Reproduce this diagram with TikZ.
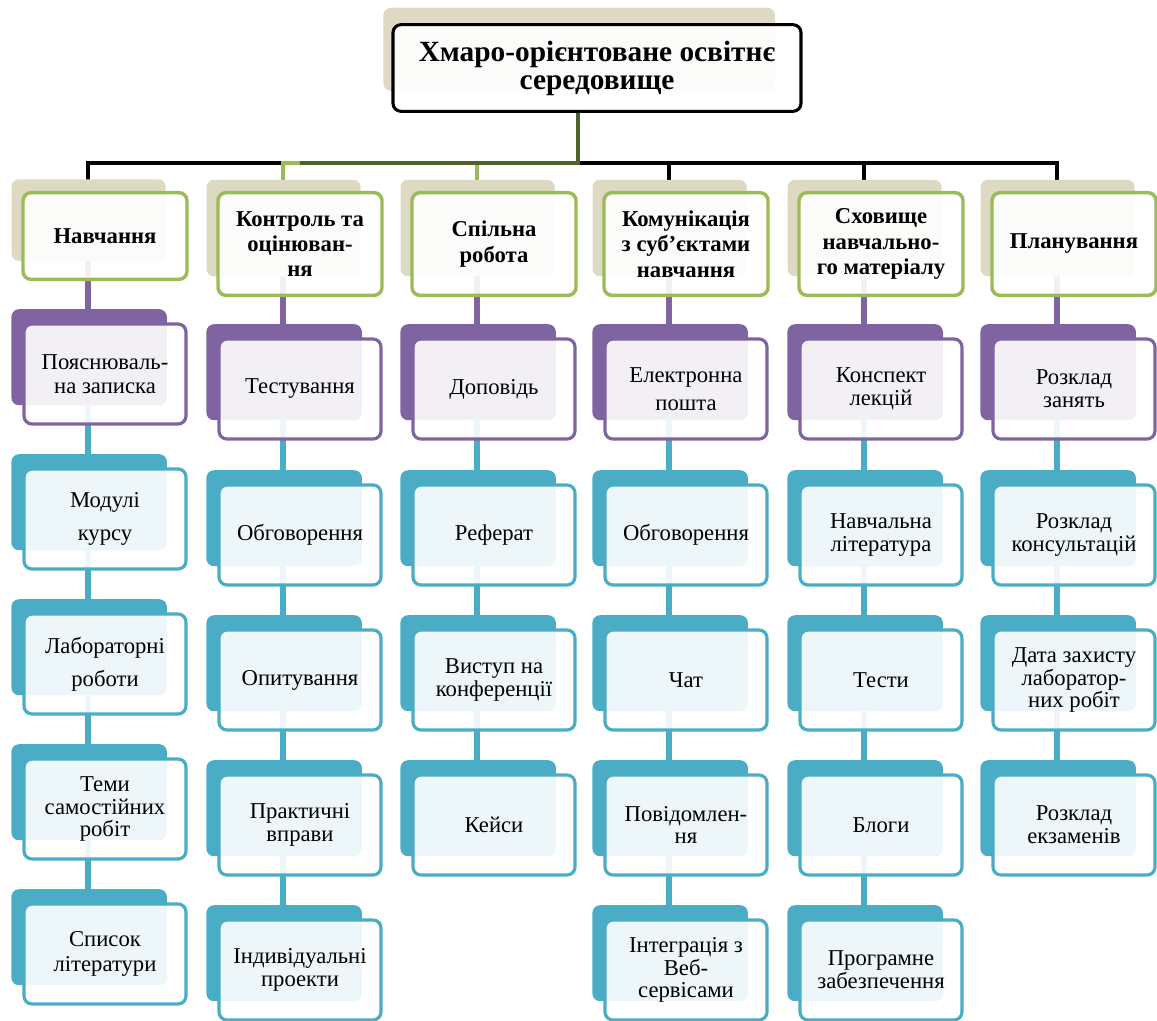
\documentclass[tikz,border=0pt]{standalone}
\usepackage{fontspec}
\setmainfont{Liberation Serif}
\usetikzlibrary{shadows,backgrounds}
\definecolor{tanc}{HTML}{DDD9C3}
\definecolor{greenc}{HTML}{9BBB59}
\definecolor{purplec}{HTML}{8064A2}
\definecolor{bluec}{HTML}{4BACC6}
\definecolor{olivec}{HTML}{4F6228}
\tikzset{
  headbox/.style={draw=black, line width=2.3pt, rounded corners=6pt,
    fill=white, fill opacity=0.9, text opacity=1, align=center,
    minimum width=306pt, minimum height=65pt,
    font=\fontsize{22}{21}\selectfont\bfseries,
    general shadow={fill=tanc, fill opacity=1, shadow scale=0.96,
      shadow xshift=-13.9pt, shadow yshift=14.6pt}},
  groupbox/.style={draw=greenc, line width=2.6pt, rounded corners=6pt,
    fill=white, fill opacity=0.9, text opacity=1, align=center,
    minimum width=123pt, minimum height=77pt,
    font=\fontsize{17}{19}\selectfont\bfseries,
    general shadow={fill=tanc, fill opacity=1, shadow scale=0.94,
      shadow xshift=-13.1pt, shadow yshift=12.75pt}},
  itembox/.style={draw=#1, line width=2.4pt, rounded corners=6pt,
    fill=white, fill opacity=0.9, text opacity=1, align=center,
    minimum width=121.5pt, minimum height=75pt,
    font=\fontsize{17}{17}\selectfont,
    general shadow={fill=#1, fill opacity=1, shadow scale=0.96,
      shadow xshift=-12.4pt, shadow yshift=13.1pt}},
  pitem/.style={itembox=purplec},
  bitem/.style={itembox=bluec},
  trunk/.style={line width=2.4pt},
  link/.style={line width=4pt}
}
\begin{document}
\begin{tikzpicture}[x=0.75pt,y=-0.75pt]
  \useasboundingbox (0,0) rectangle (1157,1021);
  \node[headbox] (cloud) at (597,68) {Хмаро-орієнтоване освітнє\\середовище};
  \coordinate (hub) at (578,163);

  % first level
  \node[groupbox, minimum height=65pt] (learn) at (105,236) {Навчання};
  \node[groupbox] (control) at (300,244) {Контроль та\\оцінюван-\\ня};
  \node[groupbox] (collab) at (494,244) {Спільна\\робота};
  \node[groupbox] (comm) at (686,244) {Комунікація\\з суб'єктами\\навчання};
  \node[groupbox] (store) at (881,244) {Сховище\\навчально-\\го матеріалу};
  \node[groupbox] (plan) at (1074,244) {Планування};

  % Навчання
  \node[pitem] (learn1) at (105,374) {Пояснюваль-\\[1pt]на записка};
  \node[bitem] (learn2) at (105,519) {Модулі\\[8pt]курсу};
  \node[bitem] (learn3) at (105,664) {Лабораторні\\[8pt]роботи};
  \node[bitem] (learn4) at (105,809) {Теми\\самостійних\\робіт};
  \node[bitem] (learn5) at (105,954) {Список\\[2pt]літератури};

  % Контроль
  \node[pitem] (control1) at (300,389) {Тестування};
  \node[bitem] (control2) at (300,535) {Обговорення};
  \node[bitem] (control3) at (300,680) {Опитування};
  \node[bitem] (control4) at (300,825) {Практичні\\вправи};
  \node[bitem] (control5) at (300,970) {Індивідуальні\\проекти};

  % Спільна робота
  \node[pitem] (collab1) at (494,389) {Доповідь};
  \node[bitem] (collab2) at (494,535) {Реферат};
  \node[bitem] (collab3) at (494,680) {Виступ на\\конференції};
  \node[bitem] (collab4) at (494,825) {Кейси};

  % Комунікація
  \node[pitem] (comm1) at (686,389) {Електронна\\[4pt]пошта};
  \node[bitem] (comm2) at (686,535) {Обговорення};
  \node[bitem] (comm3) at (686,680) {Чат};
  \node[bitem] (comm4) at (686,825) {Повідомлен-\\ня};
  \node[bitem] (comm5) at (686,970) {Інтеграція з\\Веб-\\сервісами};

  % Сховище
  \node[pitem] (store1) at (881,389) {Конспект\\лекцій};
  \node[bitem] (store2) at (881,535) {Навчальна\\література};
  \node[bitem] (store3) at (881,680) {Тести};
  \node[bitem] (store4) at (881,825) {Блоги};
  \node[bitem] (store5) at (881,970) {Програмне\\забезпечення};

  % Планування
  \node[pitem] (plan1) at (1074,389) {Розклад\\занять};
  \node[bitem] (plan2) at (1074,535) {Розклад\\консультацій};
  \node[bitem] (plan3) at (1074,680) {Дата захисту\\лаборатор-\\них робіт};
  \node[bitem] (plan4) at (1074,825) {Розклад\\екзаменів};

  \begin{scope}[on background layer]
  \begin{scope}[trunk]
    \draw (hub) -| ([xshift=-12.75pt]learn.north);
    \draw[greenc] (hub) -| ([xshift=-12.75pt]control.north);
    \draw[greenc] (hub) -| ([xshift=-12.75pt]collab.north);
    \draw (hub) -| ([xshift=-12.75pt]comm.north);
    \draw (hub) -| ([xshift=-12.75pt]store.north);
    \draw (hub) -| ([xshift=-12.75pt]plan.north);
    \draw[olivec] (cloud.south -| hub) -- (hub) -- (hub -| control.north);
  \end{scope}
  \begin{scope}[link]
    \draw[purplec] ([xshift=-12.75pt]learn.center) -- ([xshift=-12.75pt]learn1.center);
    \draw[bluec] ([xshift=-12.75pt]learn1.center) -- ([xshift=-12.75pt]learn2.center);
    \draw[bluec] ([xshift=-12.75pt]learn2.center) -- ([xshift=-12.75pt]learn3.center);
    \draw[bluec] ([xshift=-12.75pt]learn3.center) -- ([xshift=-12.75pt]learn4.center);
    \draw[bluec] ([xshift=-12.75pt]learn4.center) -- ([xshift=-12.75pt]learn5.center);
    \draw[purplec] ([xshift=-12.75pt]control.center) -- ([xshift=-12.75pt]control1.center);
    \draw[bluec] ([xshift=-12.75pt]control1.center) -- ([xshift=-12.75pt]control2.center);
    \draw[bluec] ([xshift=-12.75pt]control2.center) -- ([xshift=-12.75pt]control3.center);
    \draw[bluec] ([xshift=-12.75pt]control3.center) -- ([xshift=-12.75pt]control4.center);
    \draw[bluec] ([xshift=-12.75pt]control4.center) -- ([xshift=-12.75pt]control5.center);
    \draw[purplec] ([xshift=-12.75pt]collab.center) -- ([xshift=-12.75pt]collab1.center);
    \draw[bluec] ([xshift=-12.75pt]collab1.center) -- ([xshift=-12.75pt]collab2.center);
    \draw[bluec] ([xshift=-12.75pt]collab2.center) -- ([xshift=-12.75pt]collab3.center);
    \draw[bluec] ([xshift=-12.75pt]collab3.center) -- ([xshift=-12.75pt]collab4.center);
    \draw[purplec] ([xshift=-12.75pt]comm.center) -- ([xshift=-12.75pt]comm1.center);
    \draw[bluec] ([xshift=-12.75pt]comm1.center) -- ([xshift=-12.75pt]comm2.center);
    \draw[bluec] ([xshift=-12.75pt]comm2.center) -- ([xshift=-12.75pt]comm3.center);
    \draw[bluec] ([xshift=-12.75pt]comm3.center) -- ([xshift=-12.75pt]comm4.center);
    \draw[bluec] ([xshift=-12.75pt]comm4.center) -- ([xshift=-12.75pt]comm5.center);
    \draw[purplec] ([xshift=-12.75pt]store.center) -- ([xshift=-12.75pt]store1.center);
    \draw[bluec] ([xshift=-12.75pt]store1.center) -- ([xshift=-12.75pt]store2.center);
    \draw[bluec] ([xshift=-12.75pt]store2.center) -- ([xshift=-12.75pt]store3.center);
    \draw[bluec] ([xshift=-12.75pt]store3.center) -- ([xshift=-12.75pt]store4.center);
    \draw[bluec] ([xshift=-12.75pt]store4.center) -- ([xshift=-12.75pt]store5.center);
    \draw[purplec] ([xshift=-12.75pt]plan.center) -- ([xshift=-12.75pt]plan1.center);
    \draw[bluec] ([xshift=-12.75pt]plan1.center) -- ([xshift=-12.75pt]plan2.center);
    \draw[bluec] ([xshift=-12.75pt]plan2.center) -- ([xshift=-12.75pt]plan3.center);
    \draw[bluec] ([xshift=-12.75pt]plan3.center) -- ([xshift=-12.75pt]plan4.center);
  \end{scope}
  \end{scope}
\end{tikzpicture}
\end{document}
